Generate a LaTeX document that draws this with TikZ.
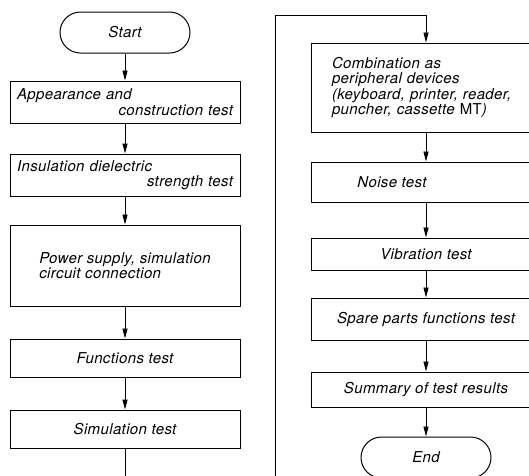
\documentclass[tikz,border=0pt]{standalone}
\usepackage{fontspec}
\setmainfont{TeX Gyre Heros}[LetterSpace=2.5]
\usetikzlibrary{arrows.meta,shapes.misc}
\begin{document}
\begin{tikzpicture}[x=1pt,y=-1pt,
  every node/.style={font=\itshape\fontsize{15}{15.5}\selectfont},
  box/.style={draw, line width=1pt, rectangle, minimum width=230pt, inner sep=0pt, align=center},
  term/.style={draw, line width=1pt, rounded rectangle, minimum width=130pt, minimum height=41pt, inner sep=0pt},
  flow/.style={line width=0.9pt, -{Triangle[length=10pt,width=5pt]}},
]
\useasboundingbox (0,0) rectangle (529,475);

% left column
\node[term] (start) at (125,32.5) {Start};
\node[box, minimum height=42pt, text width=216pt, align=left] (app) at (125,102)
  {Appearance and\hfill\mbox{}\\\mbox{}\hfill construction test};
\node[box, minimum height=42pt, text width=216pt, align=left] (ins) at (125,175)
  {Insulation dielectric\hfill\mbox{}\\\mbox{}\hfill strength test};
\node[box, minimum height=81pt, align=left] (pow) at (125,265.5)
  {Power supply, simulation\\circuit connection};
\node[box, minimum height=38pt] (fun) at (125,358) {Functions test};
\node[box, minimum height=38pt] (sim) at (125,429) {Simulation test};

% right column (boxes run past the right edge)
\node[box, minimum height=89pt, text width=188pt, align=left] (comb) at (426,87.5)
  {Combination as\\peripheral devices\\(keyboard, printer, reader,\\puncher, cassette {\upshape MT})};
\node[box, minimum height=40pt] (noise) at (426,182) {Noise test\hspace*{68pt}};
\node[box, minimum height=32pt] (vib) at (426,254) {Vibration test};
\node[box, minimum height=42pt] (spare) at (426,319) {Spare parts functions test};
\node[box, minimum height=35pt] (summ) at (426,389.5) {Summary of test results};
\node[term] (end) at (426,457.5) {End};

% connectors
\draw[flow] (start) -- (app);
\draw[flow] (app) -- (ins);
\draw[flow] (ins) -- (pow);
\draw[flow] (pow) -- (fun);
\draw[flow] (fun) -- (sim);

\coordinate (lowR) at (275,490);
\coordinate (topR) at (275,15);
\draw[flow] (sim.south) -- (sim.south |- lowR) -- (lowR) |- (comb.north |- topR) -- (comb.north);

\draw[flow] (comb) -- (noise);
\draw[flow] (noise) -- (vib);
\draw[flow] (vib) -- (spare);
\draw[flow] (spare) -- (summ);
\draw[flow] (summ) -- (end);
\end{tikzpicture}
\end{document}
